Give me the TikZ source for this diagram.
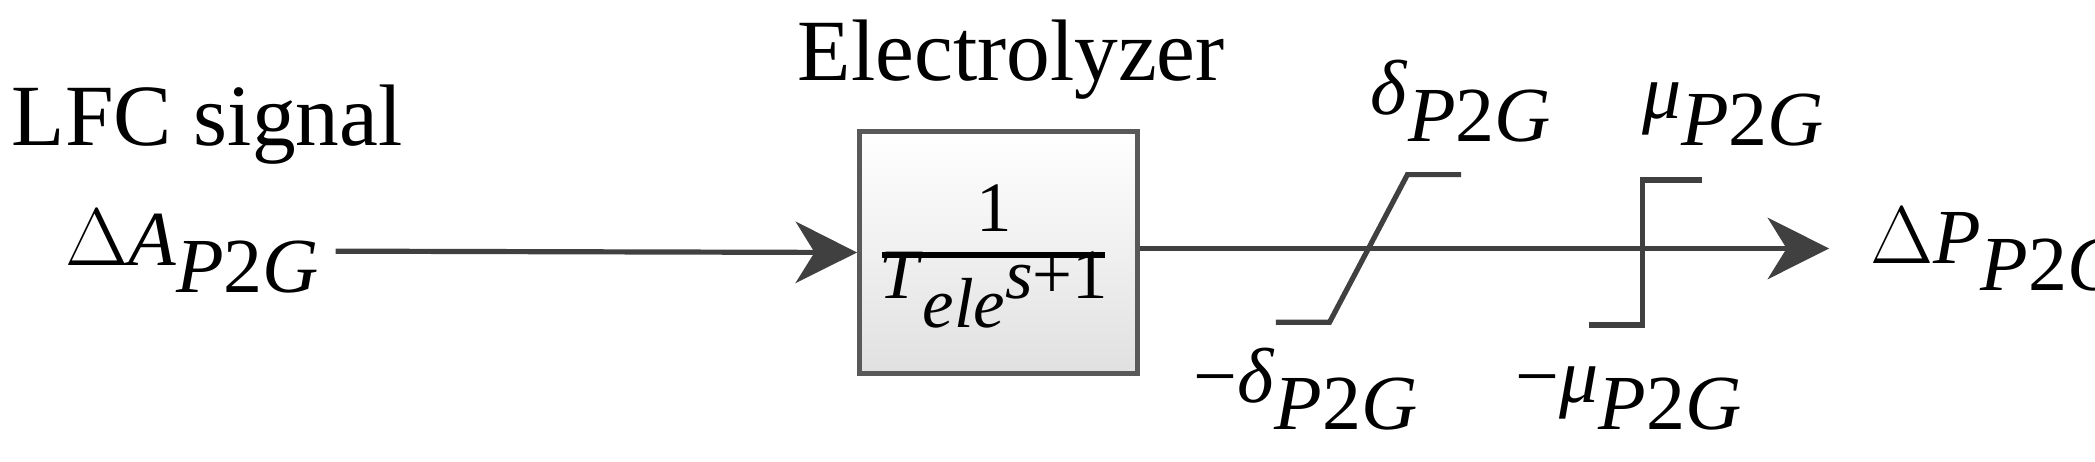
\documentclass[tikz,border=0pt]{standalone}
\usepackage{fontspec}
\setmainfont{Liberation Serif}
\usetikzlibrary{arrows.meta}
\newcommand{\sbs}{\raisebox{-0.75ex}{\textit{P}2\textit{G}}}
\begin{document}
\begin{tikzpicture}[x=0.01cm,y=-0.01cm,
  txt/.style={inner sep=0pt,font=\fontsize{18.5}{22}\selectfont},
  lab/.style={inner sep=0pt,font=\fontsize{16.5}{20}\selectfont},
  frac/.style={inner sep=0pt,font=\fontsize{15}{18}\selectfont},
  ln/.style={draw=black!75,line width=1.1pt},
  arr/.style={ln,-{Triangle[length=13pt,width=13pt,inset=4pt]}}]
\useasboundingbox (0,0) rectangle (1560,344);
\node[txt,anchor=base west] (lfc) at (8,108) {LFC signal};
\node[txt,anchor=base] (ely) at (753,60) {Electrolyzer};
\node[lab,anchor=base west] (in) at (48,198) {$\Delta$\textit{A}\sbs};
\node[draw=black!65,line width=1pt,top color=white,bottom color=black!12,minimum width=2.07cm,minimum height=1.8cm] (box) at (743.5,188) {};
\node[frac,anchor=base] (one) at (740,172) {1};
\coordinate (fl) at (657,190); \coordinate (fr) at (823,190);
\draw[line width=1.3pt] (fl) -- (fr);
\node[frac,anchor=base] (den) at (740,222) {\textit{T}\raisebox{-0.9ex}{\textit{ele}}\textit{s}+1};
\coordinate (inL) at (250,187);
\draw[arr] (inL) -- (box.west);
\coordinate (outR) at (1362,185);
\draw[arr] (box.east |- outR) -- (outR);
\node[lab,anchor=base west] (out) at (1392,196) {$\Delta$\textit{P}\sbs};
% saturation
\coordinate (s1) at (950,240); \coordinate (s2) at (990,240);
\coordinate (s3) at (1048,130); \coordinate (s4) at (1088,130);
\draw[ln] (s1) -- (s2) -- (s3) -- (s4);
\coordinate (r1) at (1183,242); \coordinate (r2) at (1223,242);
\coordinate (r3) at (1223,134); \coordinate (r4) at (1267,134);
\draw[ln] (r1) -- (r2) -- (r3) -- (r4);
\node[lab,anchor=base west] (dp) at (1020,85) {\textit{δ}\sbs};
\node[lab,anchor=base west] (mp) at (1222,88) {\textit{μ}\sbs};
\node[lab,anchor=base west] (dm) at (888,300) {−\textit{δ}\sbs};
\node[lab,anchor=base west] (mm) at (1128,300) {−\textit{μ}\sbs};
\end{tikzpicture}
\end{document}
